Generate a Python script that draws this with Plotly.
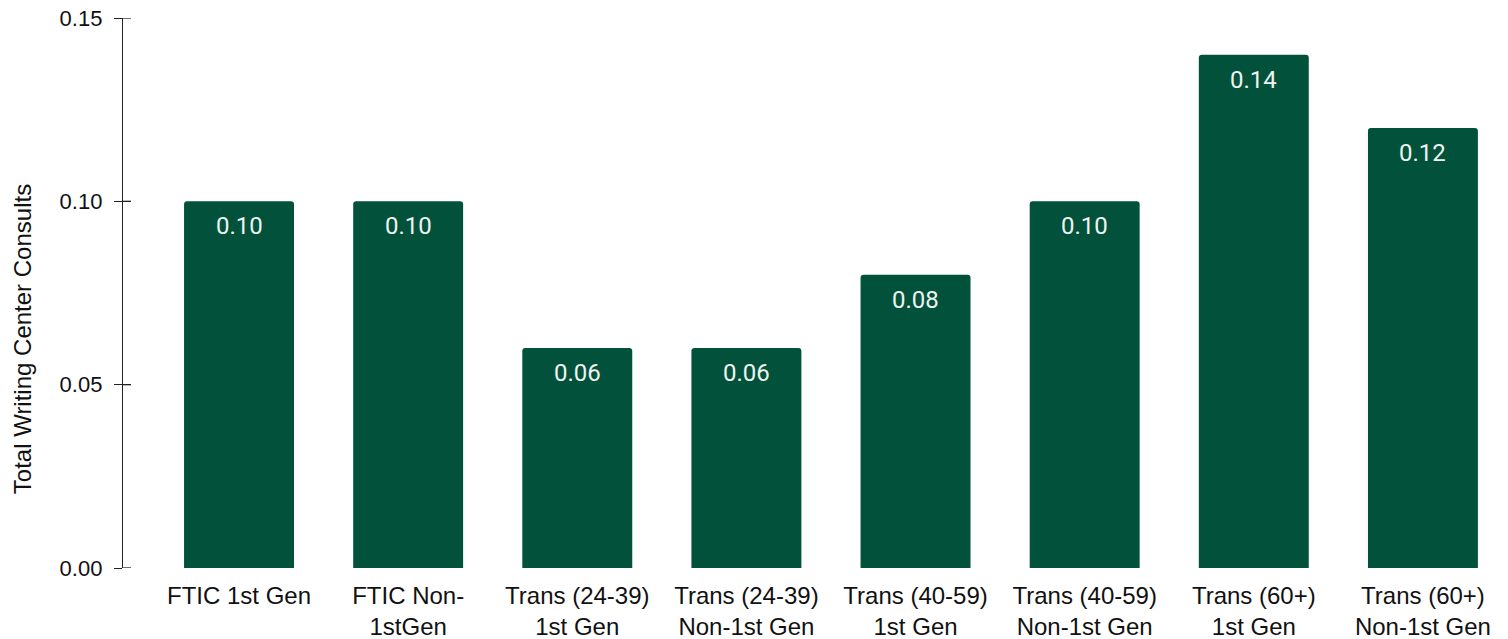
import plotly.graph_objects as go

# Writing center consults per student group
categories = [
    "FTIC 1st Gen",
    "FTIC Non-<br>1stGen",
    "Trans (24-39)<br>1st Gen",
    "Trans (24-39)<br>Non-1st Gen",
    "Trans (40-59)<br>1st Gen",
    "Trans (40-59)<br>Non-1st Gen",
    "Trans (60+)<br>1st Gen",
    "Trans (60+)<br>Non-1st Gen",
]
consults = [0.10, 0.10, 0.06, 0.06, 0.08, 0.10, 0.14, 0.12]
y_ticks = [0.00, 0.05, 0.10, 0.15]
y_title = "Total Writing Center Consults"

BAR_GREEN = "#02513A"
AXIS_FONT = "Liberation Sans, Arial, sans-serif"
AXIS_COLOR = "#222222"
xs = list(range(len(categories)))

fig = go.Figure()
fig.add_trace(go.Bar(
    x=xs,
    y=consults,
    width=0.65,
    marker=dict(color=BAR_GREEN, line=dict(width=0)),
    hoverinfo="skip",
))

# value labels just below each bar top
for i, v in enumerate(consults):
    fig.add_annotation(
        x=i, y=v, text=f"{v:.2f}", showarrow=False,
        xref="x", yref="y", yanchor="middle", yshift=-25,
        font=dict(family="Roboto, sans-serif", size=24, color="#EEF4F1"),
    )

# inner half of the crossing tick marks on the value axis
for t in y_ticks:
    fig.add_shape(
        type="line", xref="paper", yref="y",
        xsizemode="pixel", xanchor=0, x0=0, x1=8, y0=t, y1=t,
        line=dict(color=AXIS_COLOR, width=1.3), layer="above",
    )

# value-axis title
fig.add_annotation(
    text=y_title, textangle=-90, showarrow=False,
    xref="paper", yref="paper", x=0, y=0.416,
    xanchor="center", yanchor="middle", xshift=-101,
    font=dict(family=AXIS_FONT, size=24, color="#111111"),
)

fig.update_layout(
    width=1508, height=639,
    margin=dict(l=123, r=0, t=18, b=71),
    paper_bgcolor="white", plot_bgcolor="white",
    showlegend=False,
    barcornerradius=3,
    xaxis=dict(
        range=[-0.686, 7.503],
        tickmode="array",
        tickvals=xs,
        ticktext=categories,
        showgrid=False, zeroline=False, showline=False, ticks="",
        tickfont=dict(family=AXIS_FONT, size=24, color="#111111"),
        ticklabelstandoff=11,
        automargin=False,
    ),
    yaxis=dict(
        range=[0, 0.15],
        tickmode="array",
        tickvals=y_ticks,
        ticktext=[f"{t:.2f}" for t in y_ticks],
        showgrid=False, zeroline=False,
        showline=True, linecolor=AXIS_COLOR, linewidth=1.3,
        ticks="outside", ticklen=8, tickwidth=1.3, tickcolor=AXIS_COLOR,
        tickfont=dict(family=AXIS_FONT, size=22, color="#111111"),
        ticklabelstandoff=7,
        automargin=False,
    ),
)

fig.write_html("out.html")
